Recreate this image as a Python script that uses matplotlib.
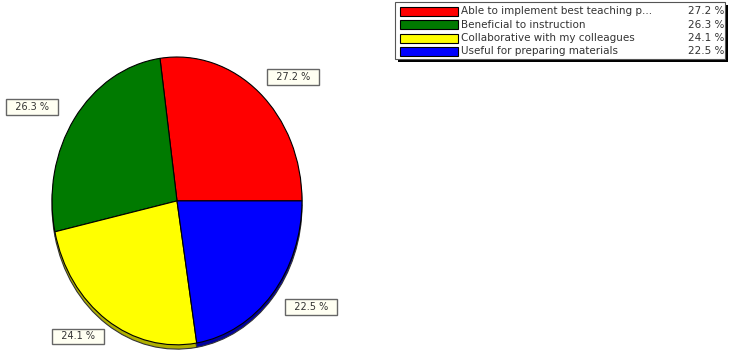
import numpy as np
import matplotlib.pyplot as plt
from matplotlib.patches import Rectangle

labels = ["Able to implement best teaching practices", "Beneficial to instruction",
          "Collaborative with my colleagues", "Useful for preparing materials"]
legend_names = ["Able to implement best teaching p...", "Beneficial to instruction",
                "Collaborative with my colleagues", "Useful for preparing materials"]
values = [27.2, 26.3, 24.1, 22.5]
colors = ["#ff0000", "#007a00", "#ffff00", "#0000ff"]
shadow_colors = ["#a00000", "#004a00", "#b0b000", "#0000a0"]

fig = plt.figure(figsize=(7.32, 3.56), dpi=100)

# pie drawn in an axes that is taller than wide -> elliptical pie
ax = fig.add_axes([52 / 732, 4 / 356, 250 / 732, 295 / 356])
ax.pie(values, colors=shadow_colors, startangle=0, counterclock=True, center=(0, -0.03),
       wedgeprops=dict(edgecolor="#333333", linewidth=0.8))
wedges, _ = ax.pie(values, colors=colors, startangle=0, counterclock=True,
                   wedgeprops=dict(edgecolor="black", linewidth=0.8))
ax.set_aspect("auto")
ax.set_xlim(-1, 1)
ax.set_ylim(-1.05, 1)
ax.axis("off")

for w, v in zip(wedges, values):
    mid = np.deg2rad((w.theta1 + w.theta2) / 2)
    ax.text(1.41 * np.cos(mid), 1.14 * np.sin(mid), f"  {v} %  ", ha="center", va="center",
            fontsize=7, color="#333333",
            bbox=dict(boxstyle="square,pad=0.3", facecolor="#fffff2", edgecolor="#666666", linewidth=1))

# legend box
lax = fig.add_axes([395 / 732, 294 / 356, 333 / 732, 60 / 356])
lax.set_xlim(0, 333)
lax.set_ylim(60, 0)
lax.axis("off")
lax.add_patch(Rectangle((3, 3), 330, 57, facecolor="black", edgecolor="none", clip_on=False))
lax.add_patch(Rectangle((0, 0), 330, 57, facecolor="white", edgecolor="#555555", linewidth=0.8, clip_on=False))
for i, (name, v, c) in enumerate(zip(legend_names, values, colors)):
    y = 9 + i * 13.5
    lax.add_patch(Rectangle((5, y - 4.5), 58, 9, facecolor=c, edgecolor="black", linewidth=0.8))
    lax.text(66, y, name, ha="left", va="center", fontsize=7.5, color="#333333")
    lax.text(329, y, f"{v} %", ha="right", va="center", fontsize=7.5, color="#333333")

fig.savefig("out.png", dpi=100)
